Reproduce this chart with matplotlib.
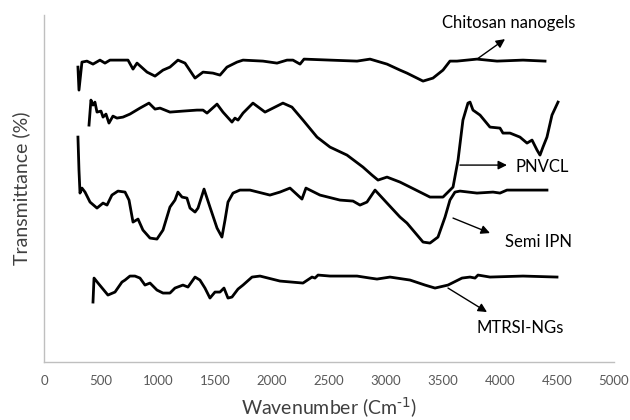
import matplotlib
matplotlib.use("Agg")
import matplotlib.pyplot as plt

plt.rcParams['font.family'] = ['Lato', 'DejaVu Sans']
plt.rcParams['mathtext.default'] = 'regular'

# FTIR spectra, transmittance in arbitrary offset units
chitosan_wn = [298, 307, 333, 377, 430, 491, 535, 579, 737, 781, 816, 904, 974, 1044, 1105,
               1175, 1237, 1325, 1395, 1482, 1544, 1605, 1693, 1746, 1921, 2044, 2132, 2184,
               2246, 2281, 2509, 2746, 2860, 3009, 3123, 3184, 3325, 3412, 3500, 3561, 3623,
               3798, 3974, 4202, 4395]
chitosan_t = [295, 272, 300, 301, 298, 302, 299, 302, 302, 293, 299, 290, 286, 292, 295,
              302, 299, 284, 290, 289, 287, 295, 300, 302, 301, 299, 302, 302,
              298, 303, 302, 301, 303, 298, 292, 289, 281, 284, 292, 301, 301,
              303, 301, 302, 301]

pnvcl_wn = [395, 412, 430, 447, 465, 500, 518, 544, 570, 605, 640, 693, 754, 842, 921, 974,
            1018, 1105, 1219, 1342, 1395, 1430, 1518, 1570, 1649, 1675, 1702, 1746, 1833,
            1939, 2096, 2175, 2272, 2395, 2509, 2658, 2798, 2877, 2930, 3009, 3123, 3211,
            3386, 3500, 3588, 3632, 3675, 3719, 3737, 3763, 3825, 3912, 4000, 4026, 4088,
            4175, 4237, 4281, 4325, 4351, 4377, 4412, 4456, 4509]
pnvcl_t = [237, 262, 257, 260, 250, 251, 245, 248, 239, 246, 244, 245, 248, 254, 259, 253,
           254, 250, 251, 252, 252, 249, 258, 250, 240, 244, 242, 249, 259,
           250, 259, 255, 242, 225, 215, 207, 195, 187, 182, 185, 180, 175,
           165, 165, 175, 202, 242, 259, 260, 252, 247, 235, 234, 229, 229,
           225, 219, 222, 212, 207, 215, 225, 247, 260]

semi_wn = [298, 307, 316, 333, 360, 404, 465, 518, 553, 596, 649, 711, 746, 781, 825, 868,
           930, 991, 1044, 1105, 1149, 1175, 1211, 1254, 1281, 1325, 1351, 1404, 1456,
           1518, 1561, 1588, 1614, 1658, 1719, 1807, 1982, 2070, 2158, 2263, 2298, 2421,
           2596, 2711, 2772, 2833, 2904, 3009, 3123, 3184, 3325, 3386, 3456, 3518, 3561,
           3605, 3649, 3798, 3939, 4000, 4061, 4202, 4412]
semi_t = [225, 192, 169, 174, 170, 160, 154, 159, 157, 167, 171, 170, 162, 140, 143, 132,
          124, 123, 132, 155, 162, 170, 165, 164, 154, 150, 154, 173, 155,
          134, 125, 142, 160, 169, 172, 172, 167, 170, 174, 163, 174, 167,
          162, 161, 157, 160, 172, 159, 145, 139, 120, 119, 125, 145, 162,
          170, 171, 169, 170, 169, 172, 172, 172]

mtrsi_wn = [430, 439, 474, 561, 623, 684, 711, 754, 798, 842, 886, 930, 991, 1044, 1105,
            1149, 1219, 1263, 1325, 1368, 1412, 1456, 1500, 1544, 1579, 1614, 1649, 1702,
            1746, 1825, 1895, 2070, 2272, 2351, 2377, 2404, 2509, 2746, 2860, 2921, 3035,
            3211, 3342, 3430, 3544, 3667, 3737, 3781, 3807, 3912, 4202, 4500]
mtrsi_t = [60, 84, 79, 67, 70, 80, 82, 86, 86, 84, 77, 79, 72, 69, 69,
           74, 77, 75, 85, 82, 74, 64, 70, 70, 74, 64, 65, 73,
           77, 85, 86, 81, 79, 85, 84, 87, 86, 86, 84, 83, 85,
           82, 77, 74, 77, 84, 85, 84, 87, 85, 86, 85]

x_ticks = list(range(0, 5001, 500))

fig = plt.figure(figsize=(6.3, 4.2), dpi=100)
ax = fig.add_axes([0.0698, 0.138, 0.9048, 0.826])

for wn, t in [(chitosan_wn, chitosan_t), (pnvcl_wn, pnvcl_t),
              (semi_wn, semi_t), (mtrsi_wn, mtrsi_t)]:
    ax.plot(wn, t, color='black', lw=2, solid_joinstyle='round')

ax.set_xlim(0, 5000)
ax.set_ylim(0, 347)
ax.set_xticks(x_ticks)
ax.set_yticks([])
ax.tick_params(axis='x', length=0, labelsize=9.5, labelcolor='#595959', pad=9)
for s in ['top', 'right']:
    ax.spines[s].set_visible(False)
for s in ['left', 'bottom']:
    ax.spines[s].set_color('#bfbfbf')
    ax.spines[s].set_linewidth(1)

ax.set_xlabel(r'Wavenumber (Cm$^{\text{-1}}$)', fontsize=14, color='#404040', labelpad=6)
ax.set_ylabel('Transmittance (%)', fontsize=14, color='#404040', labelpad=10)

arrow = dict(arrowstyle='-|>', color='black', lw=1, mutation_scale=13, shrinkA=0, shrinkB=0)
ax.annotate('', xy=(4044, 323), xytext=(3798, 303), arrowprops=arrow)
ax.text(4079, 339, 'Chitosan nanogels', fontsize=12, ha='center', va='center')
ax.annotate('', xy=(4061, 197), xytext=(3649, 197), arrowprops=arrow)
ax.text(4132, 195, 'PNVCL', fontsize=12, ha='left', va='center')
ax.annotate('', xy=(3912, 129), xytext=(3588, 144), arrowprops=arrow)
ax.text(4044, 120, 'Semi IPN', fontsize=12, ha='left', va='center')
ax.annotate('', xy=(3886, 50), xytext=(3544, 74), arrowprops=arrow)
ax.text(3798, 34, 'MTRSI-NGs', fontsize=12, ha='left', va='center')

fig.savefig('out.png', dpi=100)
